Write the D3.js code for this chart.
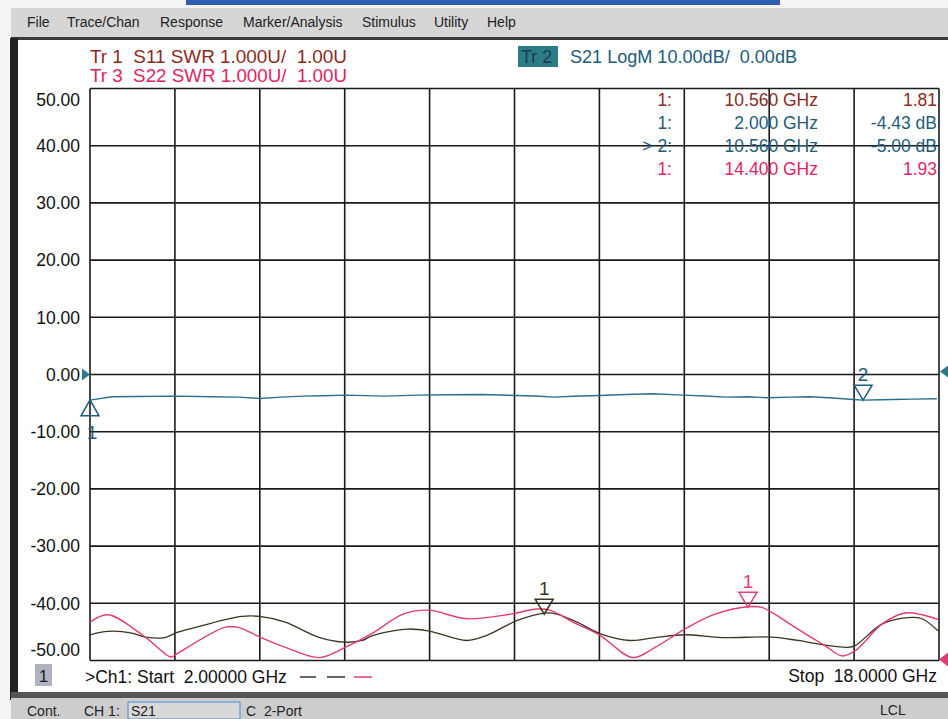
<!DOCTYPE html>
<html>
<head>
<meta charset="utf-8">
<script src="https://cdn.jsdelivr.net/npm/d3@7"></script>
<style>
  body { margin: 0; background: #fff; }
  svg { display: block; font-family: "Liberation Sans", Arial, sans-serif; }
</style>
</head>
<body>
<div id="vna"></div>
<script>
// S21 (LogM, dB) trace
const s21Freq = [2.00, 2.41, 2.90, 3.60, 4.30, 4.80, 5.20, 5.60, 6.00, 6.40, 6.81, 7.20, 7.56, 8.18, 8.70, 9.39, 10.01, 10.40, 10.73, 11.10, 11.61, 12.10, 12.61, 13.18, 13.60, 14.00, 14.40, 14.76, 15.20, 15.57, 16.00, 16.38, 16.57, 16.90, 17.13, 17.50, 17.96];
const s21dB   = [-4.48, -3.90, -3.85, -3.78, -3.90, -3.95, -4.19, -3.95, -3.78, -3.72, -3.60, -3.70, -3.78, -3.60, -3.55, -3.49, -3.66, -3.75, -3.96, -3.80, -3.66, -3.50, -3.37, -3.60, -3.75, -3.96, -3.90, -4.07, -3.95, -3.90, -4.10, -4.36, -4.48, -4.42, -4.36, -4.30, -4.25];

// S11 (SWR) trace
const s11Freq = [2.00, 2.34, 2.79, 3.04, 3.41, 3.64, 4.11, 4.86, 5.20, 5.68, 6.30, 6.81, 7.13, 7.31, 7.99, 8.41, 9.10, 9.48, 10.05, 10.58, 10.80, 11.18, 11.61, 12.18, 12.65, 13.21, 13.91, 14.85, 15.34, 15.85, 16.27, 16.42, 16.93, 17.42, 17.68, 17.98];
const s11Swr  = [1.45, 1.51, 1.48, 1.41, 1.40, 1.49, 1.61, 1.77, 1.77, 1.67, 1.41, 1.32, 1.35, 1.43, 1.55, 1.51, 1.35, 1.44, 1.70, 1.83, 1.81, 1.67, 1.47, 1.35, 1.40, 1.45, 1.40, 1.41, 1.35, 1.27, 1.23, 1.26, 1.64, 1.75, 1.73, 1.52];

// S22 (SWR) trace
const s22Freq = [2.00, 2.34, 3.04, 3.53, 3.64, 4.54, 4.79, 5.20, 5.68, 6.33, 6.81, 7.31, 7.90, 8.37, 9.10, 9.92, 10.42, 10.67, 11.10, 11.61, 12.23, 12.65, 13.21, 13.78, 14.40, 14.66, 14.85, 15.34, 15.85, 16.17, 16.42, 16.93, 17.36, 17.68, 17.98];
const s22Swr  = [1.67, 1.80, 1.41, 1.06, 1.12, 1.58, 1.58, 1.41, 1.23, 1.05, 1.23, 1.47, 1.81, 1.88, 1.73, 1.81, 1.90, 1.88, 1.67, 1.44, 1.05, 1.23, 1.55, 1.81, 1.94, 1.93, 1.84, 1.55, 1.26, 1.08, 1.17, 1.64, 1.83, 1.80, 1.72];

// markers: [freq, value, label, direction]
const s21Markers = [[2.00, -4.43, "1", "up"], [16.57, -4.48, "2", "down"]];
const s11Markers = [[10.56, 1.81, "1", "down"]];
const s22Markers = [[14.40, 1.93, "1", "down"]];

const yTicks = [50, 40, 30, 20, 10, 0, -10, -20, -30, -40, -50];
const menuItems = ["File", "Trace/Chan", "Response", "Marker/Analysis", "Stimulus", "Utility", "Help"];
const menuX = [27, 67, 160, 243, 362, 434, 487];

const readIdx  = ["1:", "1:", "> 2:", "1:"];
const readFreq = ["10.560 GHz", "2.000 GHz", "10.560 GHz", "14.400 GHz"];
const readVal  = ["1.81", "-4.43 dB", "-5.00 dB", "1.93"];
const readTr   = ["s11", "s21", "s21", "s22"];

const col = { s11: "#3e3422", s11t: "#8c2a1e", s21: "#2e6f8c", s21t: "#215c7c", s22: "#e23c70", s22t: "#e0245e" };

const W = 948, H = 719;
const svg = d3.select("#vna").append("svg").attr("width", W).attr("height", H);

// window chrome
svg.append("rect").attr("x", 0).attr("y", 0).attr("width", W).attr("height", H).attr("fill", "#f4f4f4");
svg.append("rect").attr("x", 186).attr("y", 0).attr("width", 594).attr("height", 5).attr("fill", "#2f5fb0");
svg.append("rect").attr("x", 11).attr("y", 8).attr("width", W - 11).attr("height", 30).attr("fill", "#d6d6d6");
svg.append("rect").attr("x", 11).attr("y", 37).attr("width", W - 11).attr("height", 3).attr("fill", "#3a3a3a");
svg.append("rect").attr("x", 10).attr("y", 38).attr("width", 8).attr("height", 662).attr("fill", "#222");
svg.append("rect").attr("x", 18).attr("y", 40).attr("width", W - 18).attr("height", 652).attr("fill", "#fff");
svg.append("rect").attr("x", 11).attr("y", 692).attr("width", W - 11).attr("height", 6).attr("fill", "#555");
svg.append("rect").attr("x", 11).attr("y", 698).attr("width", W - 11).attr("height", 21).attr("fill", "#cdcdcd");

svg.selectAll(".menu").data(menuItems).enter().append("text")
    .attr("x", (d, i) => menuX[i]).attr("y", 27)
    .attr("font-size", 14).attr("fill", "#222")
    .text(d => d);

// scales
const x = d3.scaleLinear().domain([2, 18]).range([90, 939]);
const yDb = d3.scaleLinear().domain([-50, 50]).range([660.5, 88.5]);
const ySwr = d3.scaleLinear().domain([1, 11]).range([660.5, 88.5]);

// grid
const g = svg.append("g");
g.selectAll(".vgrid").data(d3.range(0, 11)).enter().append("line")
    .attr("x1", d => x(2 + d * 1.6)).attr("x2", d => x(2 + d * 1.6))
    .attr("y1", yDb(50)).attr("y2", yDb(-50))
    .attr("stroke", "#1a1a1a").attr("stroke-width", 1.6);
g.selectAll(".hgrid").data(yTicks).enter().append("line")
    .attr("x1", x(2)).attr("x2", x(18))
    .attr("y1", d => yDb(d)).attr("y2", d => yDb(d))
    .attr("stroke", "#1a1a1a").attr("stroke-width", 1.6);

// y labels (extremes held inside like the instrument does)
g.selectAll(".ylab").data(yTicks).enter().append("text")
    .attr("x", 80).attr("y", d => Math.min(Math.max(yDb(d), 100), 650))
    .attr("dy", "0.36em").attr("text-anchor", "end")
    .attr("font-size", 17.5).attr("fill", "#111")
    .text(d => d3.format(".2f")(d).replace("\u2212", "-"));

// header
svg.append("text").attr("x", 90).attr("y", 63).attr("font-size", 18)
    .attr("textLength", 257).attr("lengthAdjust", "spacingAndGlyphs")
    .attr("fill", col.s11t).attr("xml:space", "preserve").text("Tr 1  S11 SWR 1.000U/  1.00U");
svg.append("text").attr("x", 90).attr("y", 82).attr("font-size", 18)
    .attr("textLength", 257).attr("lengthAdjust", "spacingAndGlyphs")
    .attr("fill", col.s22t).attr("xml:space", "preserve").text("Tr 3  S22 SWR 1.000U/  1.00U");
svg.append("rect").attr("x", 518).attr("y", 46).attr("width", 40).attr("height", 21).attr("fill", "#2b7c86");
svg.append("text").attr("x", 521).attr("y", 63).attr("font-size", 18)
    .attr("fill", "#1c3c44").attr("xml:space", "preserve").text("Tr 2");
svg.append("text").attr("x", 570).attr("y", 63).attr("font-size", 18)
    .attr("textLength", 227).attr("lengthAdjust", "spacingAndGlyphs")
    .attr("fill", col.s21t).attr("xml:space", "preserve").text("S21 LogM 10.00dB/  0.00dB");

// marker readout
const rows = [106, 129, 152, 175];
readIdx.forEach((d, i) => {
    const c = col[readTr[i] + "t"];
    svg.append("text").attr("x", 672).attr("y", rows[i]).attr("text-anchor", "end")
        .attr("font-size", 17.5).attr("fill", c).text(d);
    svg.append("text").attr("x", 818).attr("y", rows[i]).attr("text-anchor", "end")
        .attr("font-size", 17.5).attr("fill", c).text(readFreq[i]);
    svg.append("text").attr("x", 937).attr("y", rows[i]).attr("text-anchor", "end")
        .attr("font-size", 17.5).attr("fill", c).text(readVal[i]);
});

// traces
const lineDb = d3.line().x(d => x(d[0])).y(d => yDb(d[1]));
const lineSwr = d3.line().x(d => x(d[0])).y(d => ySwr(d[1])).curve(d3.curveCatmullRom.alpha(0.5));

svg.append("path").datum(d3.zip(s11Freq, s11Swr))
    .attr("fill", "none").attr("stroke", col.s11).attr("stroke-width", 1.3).attr("d", lineSwr);
svg.append("path").datum(d3.zip(s22Freq, s22Swr))
    .attr("fill", "none").attr("stroke", col.s22).attr("stroke-width", 1.4).attr("d", lineSwr);
svg.append("path").datum(d3.zip(s21Freq, s21dB))
    .attr("fill", "none").attr("stroke", col.s21).attr("stroke-width", 1.4).attr("d", lineDb);

// marker triangles
function drawMarkers(list, yScale, c) {
    list.forEach(m => {
        const px = x(m[0]), py = yScale(m[1]);
        const up = m[3] === "up";
        const tri = up
            ? [[px, py], [px - 9, py + 16], [px + 9, py + 16]]
            : [[px, py], [px - 9, py - 15], [px + 9, py - 15]];
        svg.append("path").attr("d", "M" + tri.join("L") + "Z")
            .attr("fill", "none").attr("stroke", c).attr("stroke-width", 1.5);
        svg.append("text").attr("x", px + (up ? 2 : 0)).attr("y", up ? py + 39 : py - 19)
            .attr("text-anchor", "middle").attr("font-size", 19).attr("fill", c).text(m[2]);
    });
}
drawMarkers(s21Markers, yDb, col.s21t);
drawMarkers(s11Markers, ySwr, col.s11);
drawMarkers(s22Markers, ySwr, col.s22);

// reference position arrows
svg.append("path").attr("d", `M${x(2) - 8},${yDb(0) - 6}L${x(2)},${yDb(0)}L${x(2) - 8},${yDb(0) + 6}Z`).attr("fill", "#2b7c86");
svg.append("path").attr("d", `M${W},${yDb(0) - 9}L${W - 8},${yDb(0) - 3}L${W},${yDb(0) + 3}Z`).attr("fill", "#2b7c86");
svg.append("path").attr("d", `M${W},${ySwr(1) - 8}L${W - 9},${ySwr(1) - 1}L${W},${ySwr(1) + 6}Z`).attr("fill", col.s22);

// bottom stimulus line
svg.append("rect").attr("x", 35).attr("y", 664).attr("width", 17).attr("height", 22).attr("fill", "#aeb4c0");
svg.append("text").attr("x", 43.5).attr("y", 682).attr("text-anchor", "middle").attr("font-size", 17).attr("fill", "#222").text("1");
svg.append("text").attr("x", 85).attr("y", 683).attr("font-size", 17.5).attr("fill", "#111")
    .attr("xml:space", "preserve").text(">Ch1: Start  2.00000 GHz");
[[300, 316, "#333"], [327, 345, "#234"], [354, 372, col.s22]].forEach(s => {
    svg.append("line").attr("x1", s[0]).attr("x2", s[1]).attr("y1", 677).attr("y2", 677)
        .attr("stroke", s[2]).attr("stroke-width", 1.5);
});
svg.append("text").attr("x", 937).attr("y", 682).attr("text-anchor", "end").attr("font-size", 17.5).attr("fill", "#111")
    .attr("xml:space", "preserve").text("Stop  18.0000 GHz");

// status bar
svg.append("text").attr("x", 27).attr("y", 716).attr("font-size", 14).attr("fill", "#222").text("Cont.");
svg.append("text").attr("x", 84).attr("y", 716).attr("font-size", 14).attr("fill", "#222").text("CH 1:");
svg.append("rect").attr("x", 128).attr("y", 702).attr("width", 112).attr("height", 17)
    .attr("fill", "#d8d8d8").attr("stroke", "#5a9ad8").attr("stroke-width", 1.2);
svg.append("text").attr("x", 131).attr("y", 716).attr("font-size", 14).attr("fill", "#222").text("S21");
svg.append("text").attr("x", 246).attr("y", 716).attr("font-size", 14).attr("fill", "#222")
    .attr("xml:space", "preserve").text("C  2-Port");
svg.append("text").attr("x", 880).attr("y", 715).attr("font-size", 14).attr("fill", "#222").text("LCL");
</script>
</body>
</html>
